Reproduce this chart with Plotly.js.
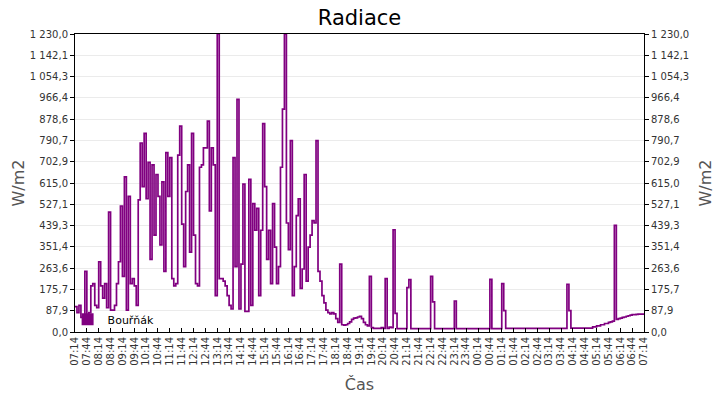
<!DOCTYPE html>
<html>
<head>
<meta charset="utf-8">
<script src="https://cdn.plot.ly/plotly-3.0.1.min.js"></script>
<style>
  body { margin: 0; background: #fff; }
  #graf { width: 720px; height: 400px; }
</style>
</head>
<body>
<div id="graf"></div>
<script>
// krok mezi merenimi v minutach (od 07:14)
var krokMinut = 5;

// radiace W/m2, po 5 minutach od 07:14 do 07:14 dalsiho dne
var radiace = [
    105, 80, 110, 60, 40, 250, 40, 80, 190, 200,
    110, 100, 290, 190, 140, 200, 100, 495, 90, 90,
    110, 200, 290, 520, 230, 640, 90, 560, 200, 220,
    190, 110, 545, 780, 600, 820, 550, 700, 300, 690,
    400, 650, 560, 360, 620, 250, 740, 560, 720, 220,
    190, 200, 730, 850, 445, 270, 580, 690, 330, 820,
    400, 200, 190, 680, 690, 760, 760, 870, 500, 760,
    690, 150, 1230, 220, 220, 210, 190, 150, 110, 95,
    720, 270, 960, 95, 280, 610, 85, 85, 630, 110,
    530, 420, 510, 150, 420, 860, 600, 300, 420, 200,
    530, 350, 200, 270, 680, 920, 1230, 450, 340, 790,
    150, 270, 480, 550, 180, 260, 650, 210, 350, 400,
    460, 450, 790, 250, 210, 150, 120, 90, 80, 75,
    80, 75, 55, 40, 280, 30, 28, 30, 35, 42,
    52, 57, 58, 62, 65, 55, 40, 30, 25, 230,
    18, 15, 15, 15, 15, 18, 15, 220, 15, 20,
    18, 422, 77, 14, 14, 14, 14, 14, 183, 216,
    14, 14, 14, 14, 14, 14, 14, 14, 14, 14,
    230, 124, 14, 14, 14, 14, 14, 14, 14, 14,
    14, 14, 128, 14, 14, 14, 14, 14, 14, 14,
    14, 14, 14, 14, 14, 14, 14, 14, 14, 14,
    217, 14, 14, 14, 14, 14, 200, 88, 15, 15,
    15, 15, 15, 15, 15, 15, 15, 15, 15, 15,
    15, 15, 15, 15, 15, 15, 15, 15, 15, 15,
    15, 15, 15, 15, 15, 15, 15, 15, 15, 197,
    88, 16, 16, 16, 16, 16, 16, 16, 16, 16,
    16, 16, 21, 21, 25, 25, 30, 30, 35, 35,
    40, 42, 45, 440, 52, 55, 57, 60, 62, 65,
    67, 70, 72, 72, 73, 74, 74, 74, 74
];

var casy = radiace.map(function(v, i){ return i * krokMinut; });

var casTicky = [0, 30, 60, 90, 120, 150, 180, 210, 240, 270, 300, 330, 360, 390, 420, 450,
    480, 510, 540, 570, 600, 630, 660, 690, 720, 750, 780, 810, 840, 870, 900, 930,
    960, 990, 1020, 1050, 1080, 1110, 1140, 1170, 1200, 1230, 1260, 1290, 1320, 1350, 1380, 1410, 1440];
var casPopisky = ['07:14', '07:44', '08:14', '08:44', '09:14', '09:44', '10:14', '10:44',
    '11:14', '11:44', '12:14', '12:44', '13:14', '13:44', '14:14', '14:44', '15:14', '15:44',
    '16:14', '16:44', '17:14', '17:44', '18:14', '18:44', '19:14', '19:44', '20:14', '20:44',
    '21:14', '21:44', '22:14', '22:44', '23:14', '23:44', '00:14', '00:44', '01:14', '01:44',
    '02:14', '02:44', '03:14', '03:44', '04:14', '04:44', '05:14', '05:44', '06:14', '06:44', '07:14'];

var yTicky = [0, 87.9, 175.7, 263.6, 351.4, 439.3, 527.1, 615.0, 702.9, 790.7, 878.6, 966.4, 1054.3, 1142.1, 1230];
var yPopisky = ['0,0', '87,9', '175,7', '263,6', '351,4', '439,3', '527,1', '615,0', '702,9',
    '790,7', '878,6', '966,4', '1 054,3', '1 142,1', '1 230,0'];

var fialova = '#800080';
var pismo = 'DejaVu Sans';

var trace1 = {
    type: 'scatter',
    mode: 'lines',
    x: casy,
    y: radiace,
    line: {color: fialova, width: 1.7, shape: 'hv'},
    showlegend: false,
    hoverinfo: 'skip'
};

// jen kvuli ctvercove znacce v legende
var trace2 = {
    type: 'bar',
    name: 'Bouřňák',
    x: [null],
    y: [null],
    yaxis: 'y2',
    marker: {color: fialova}
};

var osaY = {
    range: [0, 1230],
    tickvals: yTicky,
    ticktext: yPopisky,
    ticks: 'outside',
    ticklen: 4,
    tickcolor: '#000',
    showline: true,
    linecolor: '#000',
    linewidth: 1,
    zeroline: false,
    tickfont: {family: pismo, size: 10, color: '#333'},
    fixedrange: true
};

var layout = {
    width: 720,
    height: 400,
    margin: {l: 75, r: 76, t: 34, b: 68},
    paper_bgcolor: '#fff',
    plot_bgcolor: '#fff',
    title: {
        text: 'Radiace',
        x: 0.5,
        xref: 'paper',
        y: 0.955,
        yanchor: 'middle',
        font: {family: pismo, size: 21, color: '#000'}
    },
    xaxis: {
        type: 'linear',
        range: [0, 1440],
        tickvals: casTicky,
        ticktext: casPopisky,
        tickangle: -90,
        ticks: 'inside',
        ticklen: 4,
        tickcolor: '#000',
        showline: true,
        mirror: true,
        linecolor: '#000',
        showgrid: false,
        zeroline: false,
        tickfont: {family: pismo, size: 10, color: '#333'},
        title: {text: 'Čas', font: {family: pismo, size: 16, color: '#555'}}
    },
    yaxis: Object.assign({}, osaY, {
        showgrid: true,
        gridcolor: '#ebebeb',
        title: {text: 'W/m2', font: {family: pismo, size: 16, color: '#555'}, standoff: 1}
    }),
    yaxis2: Object.assign({}, osaY, {
        overlaying: 'y',
        side: 'right',
        showgrid: false,
        title: {text: 'W/m2', font: {family: pismo, size: 16, color: '#555'}, standoff: 11}
    }),
    legend: {
        x: -0.013,
        xanchor: 'left',
        y: -0.006,
        yanchor: 'bottom',
        bgcolor: 'rgba(0,0,0,0)',
        font: {family: pismo, size: 11, color: '#000'}
    },
    showlegend: true
};

var config = {staticPlot: true};

Plotly.newPlot('graf', [trace1, trace2], layout, config);
</script>
</body>
</html>
